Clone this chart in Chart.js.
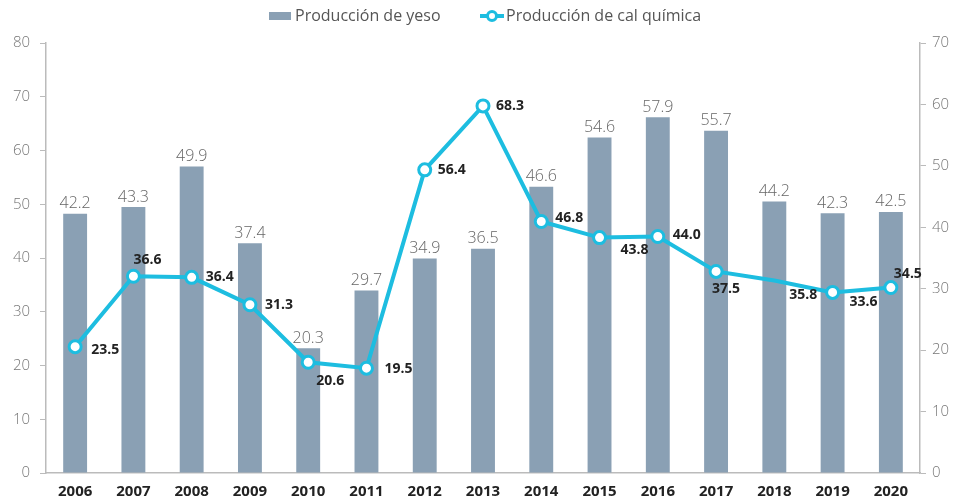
<!DOCTYPE html>
<html>
<head>
<meta charset="utf-8">
<script src="https://cdn.jsdelivr.net/npm/chart.js@4/dist/chart.umd.min.js"></script>
<style>
  body { margin: 0; background: #fff; }
  #wrap { width: 961px; height: 502px; }
</style>
</head>
<body>
<div id="wrap"><canvas id="chart" width="961" height="502"></canvas></div>
<script>
const years = ["2006","2007","2008","2009","2010","2011","2012","2013","2014","2015","2016","2017","2018","2019","2020"];
const yeso = [42.2, 43.3, 49.9, 37.4, 20.3, 29.7, 34.9, 36.5, 46.6, 54.6, 57.9, 55.7, 44.2, 42.3, 42.5];
const cal = [23.5, 36.6, 36.4, 31.3, 20.6, 19.5, 56.4, 68.3, 46.8, 43.8, 44.0, 37.5, 35.8, 33.6, 34.5];
const leftTicks = [0, 10, 20, 30, 40, 50, 60, 70, 80];
const rightTicks = [0, 10, 20, 30, 40, 50, 60, 70];

// where each bold label sits relative to its point
const calOffsets = [[16,3],[0,-16],[14,0],[15,0],[8,19],[18,1],[13,0],[13,0],[14,-3],[21,12],[15,-1],[-4,18],[15,14],[17,10],[3,-14]];
const pointSizes = cal.map((_, i) => i === 12 ? 0 : 6);

const FONT = "'Open Sans', 'DejaVu Sans', sans-serif";
const BAR = "#8aa0b4";
const LINE = "#1dbde0";

const labelsPlugin = {
  id: "labels",
  afterDatasetsDraw(chart) {
    const c = chart.ctx;
    c.save();
    const bars = chart.getDatasetMeta(0).data;
    c.font = "300 16px " + FONT;
    c.fillStyle = "#666";
    c.textAlign = "center";
    c.textBaseline = "middle";
    bars.forEach((b, i) => c.fillText(yeso[i].toFixed(1), b.x, b.y - 10));

    const pts = chart.getDatasetMeta(1).data;
    c.font = "bold 14px " + FONT;
    c.fillStyle = "#222";
    c.textAlign = "left";
    pts.forEach((p, i) => {
      const o = calOffsets[i];
      c.fillText(cal[i].toFixed(1), p.x + o[0], p.y + o[1]);
    });
    c.restore();
  },
  afterDraw(chart) {
    const c = chart.ctx;
    c.save();
    c.font = "16px " + FONT;
    c.textBaseline = "middle";
    c.textAlign = "left";
    const y = 16;
    const t1 = "Producción de yeso", t2 = "Producción de cal química";
    const w1 = c.measureText(t1).width;
    let x = 269;
    c.fillStyle = BAR;
    c.fillRect(x, y - 4, 22, 8);
    x += 26;
    c.fillStyle = "#555";
    c.fillText(t1, x, y);
    x = 480;
    c.strokeStyle = LINE;
    c.lineWidth = 4;
    c.beginPath(); c.moveTo(x, y); c.lineTo(x + 24, y); c.stroke();
    c.beginPath(); c.arc(x + 12, y, 4.5, 0, Math.PI * 2);
    c.fillStyle = "#fff"; c.fill();
    c.lineWidth = 3; c.stroke();
    x += 26;
    c.fillStyle = "#555";
    c.fillText(t2, x, y);
    c.restore();
  }
};

new Chart(document.getElementById("chart"), {
  type: "bar",
  data: {
    labels: years,
    datasets: [{
      type: "bar",
      label: "Producción de yeso",
      data: yeso,
      backgroundColor: BAR,
      yAxisID: "y2",
      categoryPercentage: 1,
      barPercentage: 0.41,
      order: 2
    }, {
      type: "line",
      label: "Producción de cal química",
      data: cal,
      borderColor: LINE,
      borderWidth: 4,
      pointRadius: pointSizes,
      pointBackgroundColor: "#fff",
      pointBorderColor: LINE,
      pointBorderWidth: 3,
      tension: 0,
      yAxisID: "y",
      order: 1
    }]
  },
  options: {
    responsive: false,
    animation: false,
    layout: { padding: { top: 43, left: 0, right: 0, bottom: 0 } },
    plugins: { legend: { display: false }, tooltip: { enabled: false } },
    scales: {
      x: {
        afterFit: s => { s.height = 29; },
        grid: { display: false, drawTicks: false },
        border: { color: "#bbb", width: 1.5 },
        ticks: { color: "#222", padding: 10, font: { family: FONT, size: 15, weight: "bold" } }
      },
      y: {
        position: "left",
        min: 0, max: 80,
        afterFit: s => { s.width = 46; },
        afterBuildTicks: s => { s.ticks = leftTicks.map(v => ({ value: v })); },
        grid: { drawOnChartArea: false, color: "#bbb", tickLength: 6 },
        border: { color: "#bbb", width: 1.5 },
        ticks: { color: "#777", padding: 10, font: { family: FONT, size: 15, weight: 300 } }
      },
      y2: {
        position: "right",
        min: 0, max: 70,
        afterFit: s => { s.width = 41; },
        afterBuildTicks: s => { s.ticks = rightTicks.map(v => ({ value: v })); },
        grid: { drawOnChartArea: false, color: "#bbb", tickLength: 6 },
        border: { color: "#bbb", width: 1.5 },
        ticks: { color: "#777", padding: 6, font: { family: FONT, size: 15, weight: 300 } }
      }
    }
  },
  plugins: [labelsPlugin]
});
</script>
</body>
</html>
